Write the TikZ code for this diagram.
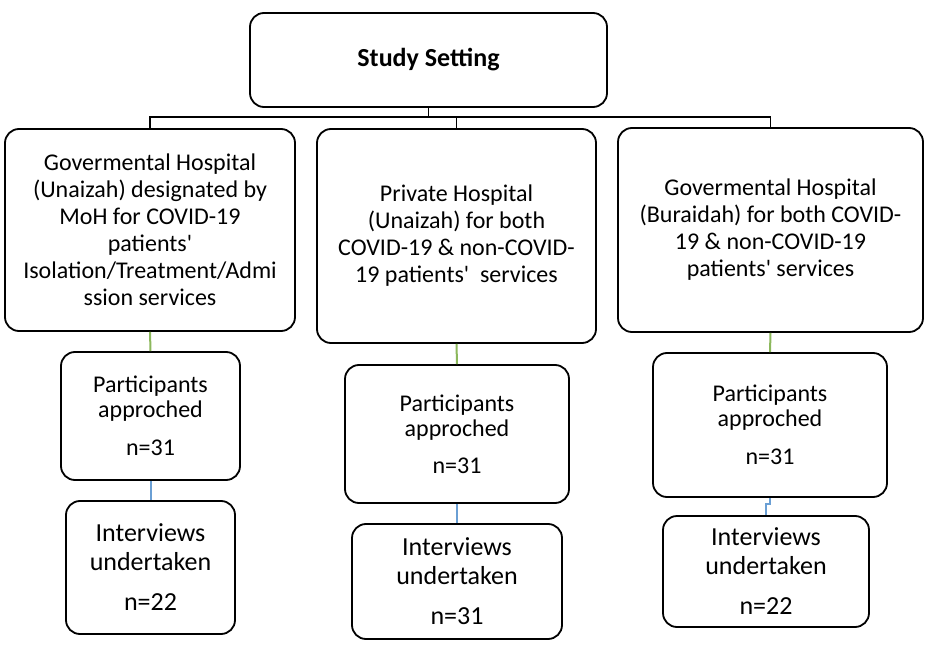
\documentclass[tikz,border=0pt]{standalone}
\usepackage{fontspec}
\setmainfont{Carlito}
\definecolor{lkgreen}{HTML}{8CB85C}
\definecolor{lkblue}{HTML}{6A9FD4}
\newcommand{\sq}{\textquotesingle}
\tikzset{
  box/.style={draw=black, line width=1.8pt, rounded corners=14pt, rectangle,
    inner sep=0pt, align=center, anchor=center, text=black},
  tree/.style={draw=black, line width=1.6pt},
  gline/.style={draw=lkgreen, line width=2pt},
  bline/.style={draw=lkblue, line width=2pt},
  ftwo/.style={font=\fontsize{24}{27}\selectfont},
  fthree/.style={font=\fontsize{24}{25}\selectfont},
  ffour/.style={font=\fontsize{26}{29}\selectfont},
}
\begin{document}
\begin{tikzpicture}[x=1pt,y=-1pt]
\useasboundingbox[fill=white] (0,0) rectangle (935,650);

\node[box, minimum width=357pt, minimum height=94pt, font=\fontsize{26}{30}\selectfont\bfseries] (top) at (428.5,60) {\raisebox{-7pt}{Study Setting}};

\node[box, ftwo, minimum width=290pt, minimum height=202pt] (Ltwoa) at (150,230)
  {Govermental Hospital\\(Unaizah) designated by\\MoH for COVID-19\\patients\sq\\Isolation/Treatment/Admi\\ssion services};
\node[box, ftwo, minimum width=279pt, minimum height=214pt] (Ltwob) at (456.5,236)
  {Private Hospital\\(Unaizah) for both\\COVID-19 \& non-COVID-\\19 patients\sq\ \ services};
\node[box, ftwo, minimum width=305pt, minimum height=204pt] (Ltwoc) at (770.5,230)
  {Govermental Hospital\\(Buraidah) for both COVID-\\19 \& non-COVID-19\\patients\sq{} services};

\node[box, fthree, minimum width=179pt, minimum height=128pt] (Lthreea) at (150.5,416)
  {Participants\\approched\\[13pt]n=31};
\node[box, fthree, minimum width=224pt, minimum height=138pt] (Lthreeb) at (457,434)
  {Participants\\approched\\[12pt]n=31};
\node[box, fthree, minimum width=234pt, minimum height=144pt] (Lthreec) at (770,425)
  {Participants\\approched\\[13pt]n=31};

\node[box, ffour, minimum width=169pt, minimum height=133pt] (Lfoura) at (150.5,567.5)
  {Interviews\\undertaken\\[11pt]n=22};
\node[box, ffour, minimum width=210pt, minimum height=115pt] (Lfourb) at (457,581.5)
  {Interviews\\undertaken\\[11pt]n=31};
\node[box, ffour, minimum width=206pt, minimum height=111pt] (Lfourc) at (766,571.5)
  {Interviews\\undertaken\\[11pt]n=22};

% tree connectors
\coordinate (hub) at (428.5,117);
\draw[tree] (top.south) -- (hub);
\draw[tree] (hub) -| (Ltwoa.north);
\draw[tree] (hub) -| (Ltwob.north);
\draw[tree] (hub) -| (Ltwoc.north);

% green connectors
\draw[gline] (Ltwoa.south) -- (Lthreea.north);
\draw[gline] (Ltwob.south) -- (Lthreeb.north);
\draw[gline] (Ltwoc.south) -- (Lthreec.north);

% blue connectors
\draw[bline] (Lthreea.south) -- (Lfoura.north);
\draw[bline] (Lthreeb.south) -- (Lfourb.north);
\draw[bline] (Lthreec.south) -- ++(0,6) -| (Lfourc.north);
\end{tikzpicture}
\end{document}
